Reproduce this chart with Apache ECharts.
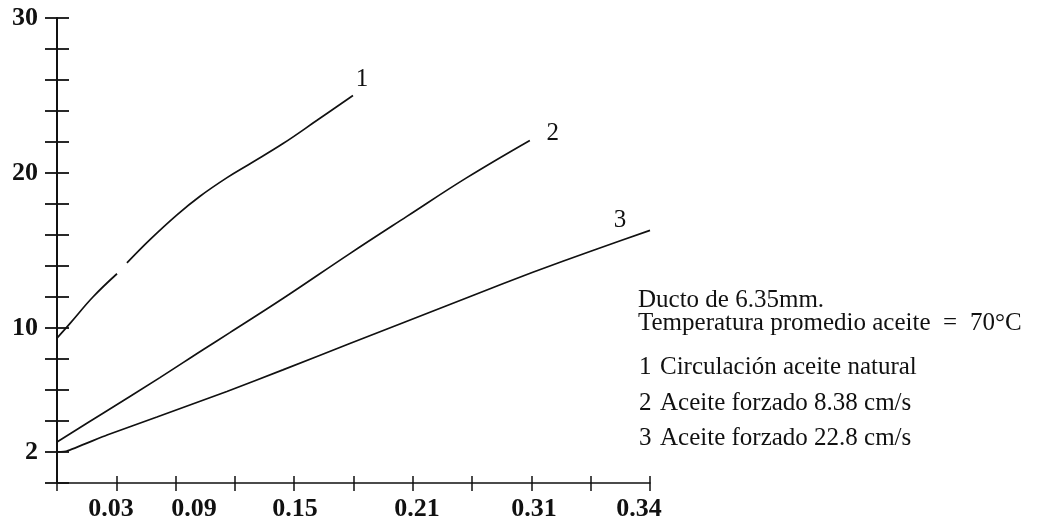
<!DOCTYPE html>
<html>
<head>
<meta charset="utf-8">
<script src="https://cdn.jsdelivr.net/npm/echarts@6/dist/echarts.min.js"></script>
<style>
  html, body { margin: 0; padding: 0; background: #fff; }
  #chart { width: 1038px; height: 524px; }
</style>
</head>
<body>
<div id="chart"></div>
<script>
// Curve data: [x, y] pairs
const curve1 = [
  [0, 9.35], [0.0075, 10.3], [0.0206, 12.0], [0.0344, 13.5], [0.037, '-'],
  [0.0401, 14.2], [0.0533, 15.7], [0.0688, 17.3], [0.0820, 18.5], [0.0975, 19.7],
  [0.1107, 20.6], [0.1296, 21.9], [0.1491, 23.4], [0.1697, 25.0]
];
const curve2 = [
  [0, 2.65], [0.0264, 4.5], [0.0590, 6.8], [0.0837, 8.6], [0.0991, 9.7],
  [0.1295, 11.9], [0.1679, 14.8], [0.2006, 17.2], [0.2350, 19.7], [0.2711, 22.1]
];
const curve3 = [
  [0, 2.0], [0.0057, 2.06], [0.0287, 3.1], [0.0573, 4.26], [0.0974, 5.9],
  [0.1295, 7.3], [0.1679, 9.0], [0.1966, 10.26], [0.2384, 12.1], [0.2728, 13.6],
  [0.3072, 15.0], [0.34, 16.3]
];

// Axis ticks and labels
const X_MAX = 0.34;
const X_TICK_STEP = 0.034;
const X_LABELS = ['0.03', '0.09', '0.15', '0.21', '0.31', '0.34'];
const X_LABEL_AT = [0.031, 0.0785, 0.1365, 0.2064, 0.2735, 0.3337];
const Y_MAX = 30;
const Y_TICK_STEP = 2;
const Y_LABELS = [2, 10, 20, 30];

// Curve tags and notes
const CURVE_TAGS = ['1', '2', '3'];
const NOTE_LINES = ['Ducto de 6.35mm.', 'Temperatura promedio aceite'];
const NOTE_EQ = '=';
const NOTE_TEMP = '70°C';
const LEGEND_ITEMS = [
  ['1', 'Circulación aceite natural'],
  ['2', 'Aceite forzado 8.38 cm/s'],
  ['3', 'Aceite forzado 22.8 cm/s']
];

const SERIF = '"Liberation Serif", "Times New Roman", serif';
const INK = '#111';

const chart = echarts.init(document.getElementById('chart'), null, { renderer: 'canvas' });

function xLabelText(v) {
  let best = 0, d = Infinity;
  X_LABEL_AT.forEach((p, i) => { const dd = Math.abs(p - v); if (dd < d) { d = dd; best = i; } });
  return X_LABELS[best];
}

const baseX = {
  type: 'value', min: 0, max: X_MAX, interval: X_TICK_STEP,
  splitLine: { show: false }
};
const baseY = {
  type: 'value', min: 0, max: Y_MAX, interval: Y_TICK_STEP,
  splitLine: { show: false }
};

function lineSeries(data, tag, offset, smooth) {
  return {
    type: 'line', data: data, showSymbol: false, smooth: smooth,
    connectNulls: false,
    lineStyle: { color: INK, width: 1.7 },
    endLabel: {
      show: true, formatter: tag, offset: offset, distance: 0,
      align: 'center', verticalAlign: 'middle',
      fontFamily: SERIF, fontSize: 25, color: INK
    },
    emphasis: { disabled: true }
  };
}

const FONT = '25px ' + SERIF;
const graphics = [];
const noteYs = [300, 323];
NOTE_LINES.forEach((t, i) => {
  graphics.push({ type: 'text', x: 638, y: noteYs[i],
    style: { text: t, font: FONT, fill: INK, textVerticalAlign: 'middle' } });
});
graphics.push({ type: 'text', x: 943, y: 323,
  style: { text: NOTE_EQ, font: FONT, fill: INK, textVerticalAlign: 'middle' } });
graphics.push({ type: 'text', x: 970, y: 323,
  style: { text: NOTE_TEMP, font: FONT, fill: INK, textVerticalAlign: 'middle' } });
const rowYs = [367, 403, 438];
LEGEND_ITEMS.forEach((item, i) => {
  graphics.push({ type: 'text', x: 639, y: rowYs[i],
    style: { text: item[0], font: FONT, fill: INK, textVerticalAlign: 'middle' } });
  graphics.push({ type: 'text', x: 660, y: rowYs[i],
    style: { text: item[1], font: FONT, fill: INK, textVerticalAlign: 'middle' } });
});

chart.setOption({
  animation: false,
  backgroundColor: '#fff',
  grid: { left: 57, right: 388, top: 18, bottom: 41, containLabel: false },
  xAxis: [
    Object.assign({}, baseX, {
      position: 'bottom',
      axisLine: { show: true, lineStyle: { color: INK, width: 1.6 } },
      axisTick: { show: true, inside: false, length: 8, lineStyle: { color: INK, width: 1.5 } },
      axisLabel: {
        show: true, customValues: X_LABEL_AT, formatter: xLabelText, margin: 13,
        fontFamily: SERIF, fontWeight: 'bold', fontSize: 26, color: INK
      }
    }),
    Object.assign({}, baseX, {
      position: 'bottom',
      axisLine: { show: false },
      axisTick: { show: true, inside: true, length: 7, lineStyle: { color: INK, width: 1.5 } },
      axisLabel: { show: false }
    })
  ],
  yAxis: [
    Object.assign({}, baseY, {
      position: 'left',
      axisLine: { show: true, lineStyle: { color: INK, width: 2 } },
      axisTick: { show: true, inside: false, length: 12, lineStyle: { color: INK, width: 1.8 } },
      axisLabel: {
        show: true, customValues: Y_LABELS, margin: 19,
        fontFamily: SERIF, fontWeight: 'bold', fontSize: 26, color: INK
      }
    }),
    Object.assign({}, baseY, {
      position: 'left',
      axisLine: { show: false },
      axisTick: { show: true, inside: true, length: 12, lineStyle: { color: INK, width: 1.8 } },
      axisLabel: { show: false }
    })
  ],
  series: [
    lineSeries(curve1, CURVE_TAGS[0], [9, -16], 0.4),
    lineSeries(curve2, CURVE_TAGS[1], [23, -7], 0.4),
    lineSeries(curve3, CURVE_TAGS[2], [-30, -10], 0.12)
  ],
  graphic: graphics
});
</script>
</body>
</html>
